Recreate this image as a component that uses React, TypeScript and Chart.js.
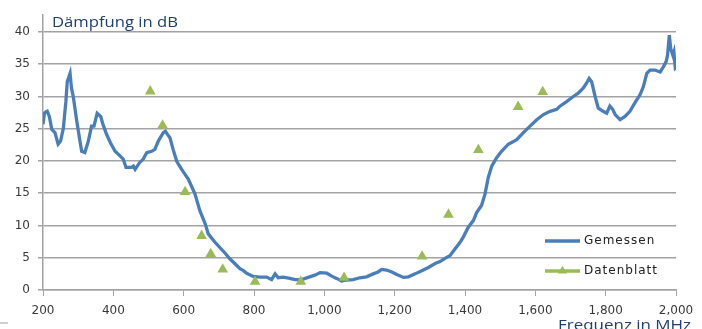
import React, { useEffect, useRef } from "react";
import { Chart, registerables } from "chart.js";

Chart.register(...registerables);

// ---- data ----
const measuredMHz = [
  200, 204, 208, 212, 218, 225, 234, 243, 250, 258, 265, 269, 272, 277, 281, 286, 296, 305, 310, 319,
  329, 338, 345, 354, 364, 371, 381, 392, 405, 419, 428, 436, 452, 457, 462, 474, 485, 495, 509, 518,
  528, 542, 548, 553, 561, 570, 580, 585, 599, 613, 623, 632, 646, 661, 670, 689, 713, 732, 751, 760,
  770, 779, 798, 817, 836, 850, 860, 869, 883, 902, 917, 936, 954, 973, 988, 1007, 1021, 1035, 1049, 1064,
  1082, 1101, 1120, 1139, 1153, 1163, 1177, 1192, 1206, 1225, 1239, 1258, 1277, 1296, 1315, 1329, 1343, 1357, 1372, 1386,
  1395, 1409, 1424, 1433, 1447, 1457, 1466, 1476, 1490, 1504, 1523, 1547, 1566, 1585, 1604, 1623, 1642, 1661, 1670, 1689,
  1708, 1722, 1736, 1746, 1753, 1760, 1770, 1779, 1793, 1803, 1812, 1820, 1827, 1841, 1855, 1869, 1883, 1898, 1907, 1917,
  1926, 1940, 1955, 1964, 1972, 1976, 1981, 1985, 1991, 1994, 1998, 2000,
];
const measuredDb = [
  25.7, 27.4, 27.6, 27.7, 26.9, 24.9, 24.4, 22.6, 23.1, 25.1, 29.2, 32.3, 32.8, 33.6, 31.3, 30.0, 26.2, 23.1, 21.5, 21.3,
  23.1, 25.4, 25.4, 27.4, 26.9, 25.6, 24.1, 22.8, 21.5, 20.8, 20.3, 19.0, 19.0, 19.2, 18.7, 19.7, 20.3, 21.3, 21.5, 21.8,
  23.1, 24.4, 24.6, 24.2, 23.6, 21.8, 20.0, 19.5, 18.3, 17.2, 16.0, 14.9, 12.3, 10.3, 8.7, 7.4, 6.0, 4.8, 3.8, 3.3,
  3.0, 2.6, 2.1, 2.0, 2.0, 1.6, 2.5, 1.9, 2.0, 1.8, 1.6, 1.6, 1.95, 2.3, 2.7, 2.6, 2.15, 1.8, 1.4, 1.55,
  1.6, 1.9, 2.05, 2.5, 2.8, 3.2, 3.1, 2.8, 2.4, 1.95, 2.05, 2.5, 3.0, 3.5, 4.1, 4.4, 4.9, 5.3, 6.4, 7.4,
  8.2, 9.7, 10.8, 12.0, 13.1, 14.9, 17.4, 19.2, 20.5, 21.5, 22.6, 23.3, 24.4, 25.4, 26.4, 27.2, 27.7, 28.0, 28.5, 29.2,
  30.0, 30.5, 31.3, 32.1, 32.8, 32.3, 30.0, 28.2, 27.7, 27.4, 28.5, 28.0, 27.2, 26.4, 26.9, 27.7, 29.0, 30.3, 31.5, 33.6,
  34.1, 34.1, 33.8, 34.6, 35.4, 36.4, 39.5, 37.4, 36.4, 36.9, 34.4, 34.5,
];
const sheetMHz = [505, 540, 604, 651, 677, 711, 803, 933, 1056, 1278, 1353, 1438, 1551, 1621];
const sheetDb = [30.8, 25.5, 15.2, 8.4, 5.6, 3.2, 1.3, 1.3, 1.9, 5.2, 11.7, 21.7, 28.4, 30.7];

const xTicks = [200, 400, 600, 800, 1000, 1200, 1400, 1600, 1800, 2000];
const yTicks = [0, 5, 10, 15, 20, 25, 30, 35, 40];
const seriesNames = ["Gemessen", "Datenblatt"];
const yAxisTitle = "Dämpfung in dB";
const xAxisTitle = "Frequenz in MHz";

// ---- styles ----
const BLUE = "#4A7EBB";
const GREEN = "#9BBB59";
const GRID = "#a3a3a3";
const TEXT = "#3a3a3a";
const TITLE = "#1F3F6E";

function drawStretched(ctx: CanvasRenderingContext2D, text: string, x: number, y: number, targetW: number, font: string, color: string) {
  ctx.save();
  ctx.font = font;
  ctx.fillStyle = color;
  ctx.textAlign = "left";
  ctx.textBaseline = "alphabetic";
  const w = ctx.measureText(text).width;
  ctx.translate(x, y);
  ctx.scale(targetW / w, 1);
  ctx.fillText(text, 0, 0);
  ctx.restore();
}

const overlayPlugin = {
  id: "overlay",
  afterDraw(chart: any) {
    const ctx: CanvasRenderingContext2D = chart.ctx;
    const ca = chart.chartArea;
    drawStretched(ctx, yAxisTitle, ca.left + 9, 27, 126, "14px 'Open Sans'", TITLE);
    drawStretched(ctx, xAxisTitle, 558, 330, 133, "14px 'Open Sans'", TITLE);

    // legend
    const lx0 = ca.right - 131;
    const lx1 = ca.right - 96;
    const tx = ca.right - 92;
    const rows = [241, 271];
    ctx.save();
    ctx.lineCap = "butt";
    ctx.strokeStyle = BLUE;
    ctx.lineWidth = 3.3;
    ctx.beginPath();
    ctx.moveTo(lx0, rows[0]);
    ctx.lineTo(lx1, rows[0]);
    ctx.stroke();
    ctx.strokeStyle = GREEN;
    ctx.beginPath();
    ctx.moveTo(lx0, rows[1]);
    ctx.lineTo(lx1, rows[1]);
    ctx.stroke();
    const cx = (lx0 + lx1) / 2;
    const r = 5;
    ctx.fillStyle = GREEN;
    ctx.beginPath();
    ctx.moveTo(cx, rows[1] - r);
    ctx.lineTo(cx + r * 0.95, rows[1] + r * 0.5);
    ctx.lineTo(cx - r * 0.95, rows[1] + r * 0.5);
    ctx.closePath();
    ctx.fill();

    ctx.fillStyle = "#222";
    ctx.font = "12px 'DejaVu Sans'";
    (ctx as any).letterSpacing = "1px";
    ctx.textBaseline = "middle";
    ctx.textAlign = "left";
    ctx.fillText(seriesNames[0], tx, rows[0]);
    ctx.fillText(seriesNames[1], tx, rows[1]);
    ctx.restore();
  },
};

export default function App() {
  const ref = useRef<HTMLCanvasElement | null>(null);

  useEffect(() => {
    if (!ref.current) return;
    const chart = new Chart(ref.current, {
      type: "line",
      data: {
        datasets: [
          {
            label: seriesNames[1],
            data: sheetMHz.map((x, i) => ({ x, y: sheetDb[i] })),
            showLine: false,
            pointStyle: "triangle",
            pointRadius: 6.2,
            pointBackgroundColor: GREEN,
            pointBorderColor: GREEN,
            pointBorderWidth: 0,
            borderColor: GREEN,
            backgroundColor: GREEN,
            order: 0,
          },
          {
            label: seriesNames[0],
            data: measuredMHz.map((x, i) => ({ x, y: measuredDb[i] })),
            borderColor: BLUE,
            backgroundColor: BLUE,
            borderWidth: 3.3,
            pointRadius: 0,
            tension: 0,
            order: 1,
          },
        ],
      },
      options: {
        animation: false,
        responsive: false,
        maintainAspectRatio: false,
        layout: { padding: { left: 0, right: 26, top: 13, bottom: 0 } },
        plugins: {
          legend: { display: false },
          tooltip: { enabled: false },
          title: { display: false },
        },
        scales: {
          x: {
            type: "linear",
            min: 200,
            max: 2000,
            afterBuildTicks: (scale: any) => {
              scale.ticks = xTicks.map((v) => ({ value: v }));
            },
            afterFit: (scale: any) => {
              scale.height = 39;
            },
            grid: {
              drawOnChartArea: false,
              drawTicks: true,
              tickLength: 6,
              color: GRID,
              lineWidth: 1,
            },
            border: { display: true, color: GRID, width: 1.5 },
            ticks: {
              color: TEXT,
              font: { family: "'DejaVu Sans'", size: 12 },
              padding: 8,
              maxRotation: 0,
              autoSkip: false,
            },
          },
          y: {
            type: "linear",
            min: 0,
            max: 42.6,
            afterBuildTicks: (scale: any) => {
              scale.ticks = yTicks.map((v) => ({ value: v }));
            },
            afterFit: (scale: any) => {
              scale.width = 43;
            },
            grid: {
              drawOnChartArea: true,
              drawTicks: true,
              tickLength: 5,
              color: GRID,
              lineWidth: 1.5,
            },
            border: { display: true, color: GRID, width: 1.5 },
            ticks: {
              color: TEXT,
              font: { family: "'DejaVu Sans'", size: 12 },
              padding: 8,
              autoSkip: false,
            },
          },
        },
      },
      plugins: [overlayPlugin],
    });
    return () => chart.destroy();
  }, []);

  return (
    <div style={{ position: "absolute", left: 0, top: 0, width: 702, height: 329, overflow: "hidden", background: "#fff" }}>
      <canvas ref={ref} width={702} height={329} style={{ display: "block", width: 702, height: 329 }} />
      <div style={{ position: "absolute", left: 0, top: 322, width: 8, height: 2, background: "#cfcfcf" }} />
    </div>
  );
}
